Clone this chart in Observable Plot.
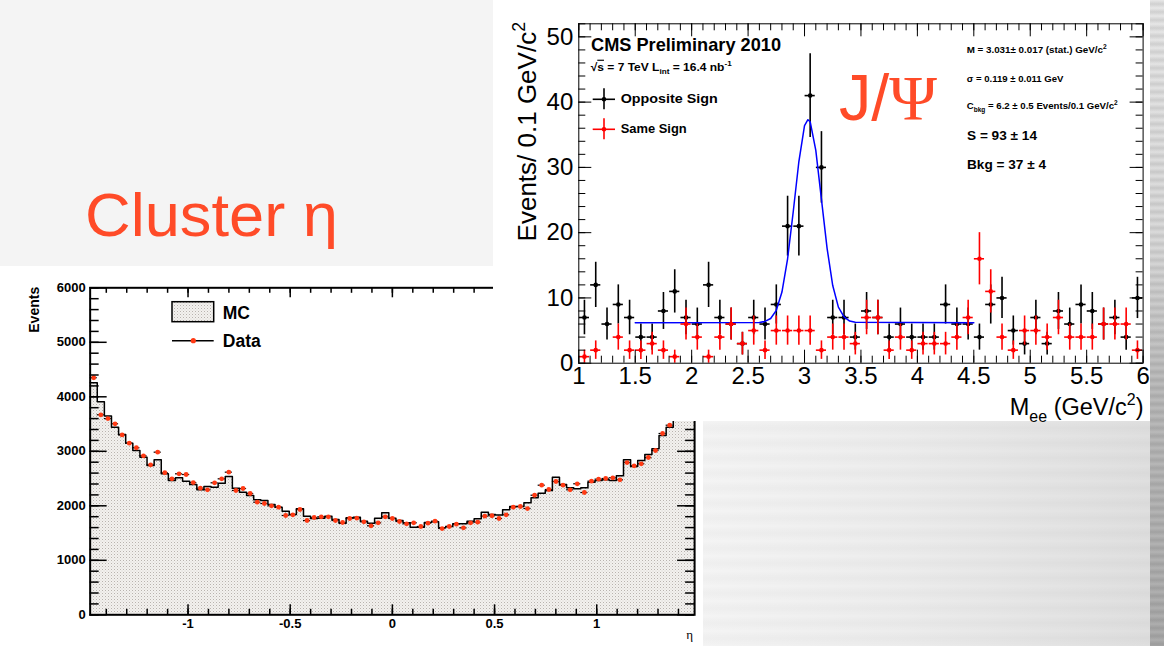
<!DOCTYPE html>
<html><head><meta charset="utf-8">
<script src="https://cdn.jsdelivr.net/npm/d3@7"></script>
<script src="https://cdn.jsdelivr.net/npm/@observablehq/plot@0.6"></script>
<style>
html,body{margin:0;padding:0;}
body{width:1164px;height:646px;overflow:hidden;position:relative;background:#f4f4f4;font-family:"Liberation Sans",Arial,sans-serif;}
#bgBR{position:absolute;left:700px;top:421px;width:464px;height:225px;
  background:repeating-linear-gradient(180deg,rgba(0,0,0,0.00) 0px,rgba(0,0,0,0.025) 7px,rgba(0,0,0,0.0) 15px),linear-gradient(90deg,#f4f4f4 0%,#ececec 45%,#dedede 100%);}
#strip{position:absolute;left:1150px;top:0;width:14px;height:646px;
  background:repeating-linear-gradient(180deg,rgba(0,0,0,0.0) 0px,rgba(0,0,0,0.10) 4px,rgba(0,0,0,0.0) 8px),linear-gradient(180deg,#e8e8e8 0%,#dadada 38%,#bcbcbc 60%,#adadad 100%);}
#leftPanel{position:absolute;left:0;top:266px;width:703px;height:380px;background:#fff;}
#rightPanel{position:absolute;left:493px;top:0;width:657px;height:421px;background:#fff;}
#leftPanel svg,#rightPanel svg{display:block;}
#overlay{position:absolute;left:0;top:0;pointer-events:none;}
</style></head>
<body>
<svg width="0" height="0" style="position:absolute">
  <defs>
    <pattern id="mcfill" width="3" height="3" patternUnits="userSpaceOnUse">
      <rect width="3" height="3" fill="#f3f1ef"></rect>
      <rect width="1" height="1" fill="#b8b3ae"></rect>
      <rect x="1.5" y="1.5" width="1" height="1" fill="#d6d2ce"></rect>
    </pattern>
  </defs>
</svg>
<div id="bgBR"></div>
<div id="strip"></div>
<div id="leftPanel"></div>
<div id="rightPanel"></div>
<svg id="overlay" width="1164" height="646"></svg>
<script>
const FONT = "Liberation Sans, Arial, Helvetica, sans-serif";

// ---------------- Right chart: J/psi -> ee invariant mass ----------------
const meeBinCenters = [1.05,1.15,1.25,1.35,1.45,1.55,1.65,1.75,1.85,1.95,
  2.05,2.15,2.25,2.35,2.45,2.55,2.65,2.75,2.85,2.95,
  3.05,3.15,3.25,3.35,3.45,3.55,3.65,3.75,3.85,3.95,
  4.05,4.15,4.25,4.35,4.45,4.55,4.65,4.75,4.85,4.95,
  5.05,5.15,5.25,5.35,5.45,5.55,5.65,5.75,5.85,5.95];
const oppositeSign = [7,12,6,9,7,4,4,8,11,7,
  6,12,7,6,3,7,6,9,21,21,
  41,30,7,7,4,8,7,4,6,4,
  4,4,9,6,6,4,9,10,5,3,
  7,3,8,6,9,8,6,7,4,10];
const sameSign = [1,2,0,4,2,2,3,2,1,6,
  4,1,4,6,3,5,2,5,5,5,
  5,2,4,4,3,7,7,2,4,2,
  3,3,3,4,7,16,11,4,2,5,
  5,4,7,4,4,4,6,6,6,2];
const fitX = [1.5,2.6,2.65,2.7,2.75,2.8,2.85,2.9,2.95,3.0,3.03,3.05,3.1,3.15,3.2,3.25,3.3,3.35,3.4,3.45,4.5];
const fitY = [6.2,6.24,6.4,6.85,8.1,10.9,16.0,23.2,30.9,36.4,37.3,37.0,32.6,25.1,17.6,11.9,8.6,7.1,6.45,6.26,6.2];
const meeTickLabels = [1,1.5,2,2.5,3,3.5,4,4.5,5,5.5,6];
const meeMinorTicks = d3.range(10, 61).map(i => i / 10);
const eventsTickLabels = [0,10,20,30,40,50];
const eventsMinorTicks = d3.range(0, 53, 2);

// ---------------- Left chart: cluster eta ----------------
const etaMin = -1.479, etaMax = 1.479;
const mcEvents = [4260,3910,3650,3440,3310,3150,3015,2890,2740,2845,
  2587,2464,2514,2451,2391,2294,2354,2341,2415,2538,
  2323,2250,2189,2110,2097,2024,1974,1901,1840,1945,
  1810,1767,1773,1810,1749,1681,1780,1791,1718,1681,
  1773,1872,1773,1730,1688,1607,1607,1694,1706,1596,
  1620,1670,1670,1718,1761,1883,1840,1830,1927,1987,
  1987,2055,2147,2231,2281,2525,2391,2330,2312,2330,
  2433,2464,2477,2464,2550,2844,2721,2831,2941,3046,
  3290,3442,3650,3920,4250];
const dataEvents = [4350,3670,3600,3505,3300,3150,3065,2917,2752,2984,
  2606,2495,2587,2574,2427,2323,2294,2422,2495,2617,
  2281,2317,2226,2066,2042,2000,1974,1822,1835,1932,
  1730,1785,1798,1798,1730,1694,1767,1773,1706,1633,
  1688,1798,1767,1712,1670,1688,1620,1681,1718,1583,
  1620,1663,1596,1688,1700,1810,1817,1767,1835,1974,
  1987,1950,2194,2378,2299,2446,2378,2294,2404,2244,
  2452,2489,2501,2514,2477,2794,2734,2771,2886,3015,
  3327,3479,3700,3950,4300];
const etaTickLabels = [-1,-0.5,0,0.5,1];
const etaMinorTicks = d3.range(-14, 15).map(i => i / 10);
const etaEventsTickLabels = [0,1000,2000,3000,4000,5000,6000];
const etaEventsMinorTicks = d3.range(0, 6001, 200);

// ---------- helpers ----------
function richText(parent, parts, attrs) {
  const t = parent.append("text").attr("text-anchor", "start");
  for (const [k, v] of Object.entries(attrs)) if (v != null) t.attr(k, v);
  const size = +attrs["font-size"];
  let shift = 0;
  for (const [str, kind] of parts) {
    const target = kind === "sub" ? 0.3 * size : kind === "sup" ? -0.42 * size : 0;
    const ts = t.append("tspan").text(str).attr("dy", target - shift);
    shift = target;
    if (kind === "sub" || kind === "sup") ts.attr("font-size", size * 0.68);
    if (kind === "ol") ts.attr("text-decoration", "overline");
  }
  return t;
}

// ================= RIGHT PLOT =================
const rW = 657, rH = 421;
const rM = {top: 23.3, right: 7.4, bottom: 58.3, left: 85.3};
const rInnerW = rW - rM.left - rM.right, rInnerH = rH - rM.top - rM.bottom;
const osRows = meeBinCenters.map((x, i) => ({x, n: oppositeSign[i]})).filter(d => d.n > 0);
const ssRows = meeBinCenters.map((x, i) => ({x, n: sameSign[i]})).filter(d => d.n > 0);
const fitRows = fitX.map((x, i) => ({x, y: fitY[i]}));
const halfBin = 0.045;

function errMarks(rows, color) {
  return [
    Plot.ruleX(rows, {x: "x", y1: d => d.n - Math.sqrt(d.n), y2: d => d.n + Math.sqrt(d.n), stroke: color, strokeWidth: 1.6}),
    Plot.ruleY(rows, {y: "n", x1: d => d.x - halfBin, x2: d => d.x + halfBin, stroke: color, strokeWidth: 1.6}),
    Plot.dot(rows, {x: "x", y: "n", r: 2.3, fill: color, stroke: "none"})
  ];
}

const rightAnnotations = () => {
  const g = d3.create("svg:g").attr("font-family", FONT).attr("text-anchor", "start");
  richText(g, [["CMS Preliminary 2010", "n"]], {x: 98, y: 50.7, "font-size": 18.5, "font-weight": "bold", textLength: 190, lengthAdjust: "spacingAndGlyphs"});
  richText(g, [["√", "n"], ["s", "ol"], [" = 7 TeV L", "n"], ["int", "sub"], [" = 16.4 nb", "n"], ["-1", "sup"]],
    {x: 97.7, y: 70.7, "font-size": 11.5, "font-weight": "bold", textLength: 141, lengthAdjust: "spacingAndGlyphs"});
  // legend
  const leg = [["Opposite Sign", "black", 99.3, 103.3, 97], ["Same Sign", "#ff0000", 129.3, 133.3, 66]];
  for (const [label, color, cy, by, len] of leg) {
    g.append("line").attr("x1", 99.7).attr("x2", 122).attr("y1", cy).attr("y2", cy).attr("stroke", color).attr("stroke-width", 1.6);
    g.append("line").attr("x1", 111).attr("x2", 111).attr("y1", cy - 11).attr("y2", cy + 10).attr("stroke", color).attr("stroke-width", 1.6);
    g.append("circle").attr("cx", 111).attr("cy", cy).attr("r", 2.3).attr("fill", color);
    richText(g, [[label, "n"]], {x: 127.7, y: by, "font-size": 13, "font-weight": "bold", textLength: len, lengthAdjust: "spacingAndGlyphs"});
  }
  // fit results
  richText(g, [["M = 3.031± 0.017 (stat.) GeV/c", "n"], ["2", "sup"]], {x: 473.7, y: 53.3, "font-size": 9.5, "font-weight": "bold", textLength: 140, lengthAdjust: "spacingAndGlyphs"});
  richText(g, [["σ = 0.119 ± 0.011 GeV", "n"]], {x: 473.7, y: 82.3, "font-size": 9.5, "font-weight": "bold", textLength: 96.7, lengthAdjust: "spacingAndGlyphs"});
  richText(g, [["C", "n"], ["bkg", "sub"], [" = 6.2 ± 0.5 Events/0.1 GeV/c", "n"], ["2", "sup"]], {x: 473.7, y: 108.7, "font-size": 9.5, "font-weight": "bold", textLength: 151, lengthAdjust: "spacingAndGlyphs"});
  richText(g, [["S = 93 ± 14", "n"]], {x: 474, y: 140, "font-size": 12.5, "font-weight": "bold", textLength: 70, lengthAdjust: "spacingAndGlyphs"});
  richText(g, [["Bkg = 37 ± 4", "n"]], {x: 474, y: 169, "font-size": 12.5, "font-weight": "bold", textLength: 79, lengthAdjust: "spacingAndGlyphs"});
  // axis titles
  richText(g, [["M", "n"], ["ee", "sub"], [" (GeV/c", "n"], ["2", "sup"], [")", "n"]], {x: 650.5, y: 415, "font-size": 23.5, "text-anchor": "end"});
  richText(g, [["Events/ 0.1 GeV/c", "n"], ["2", "sup"]], {x: 0, y: 0, "font-size": 26, "text-anchor": "end", transform: "translate(42.5,22) rotate(-90)"});
  return g.node();
};

const rightPlot = Plot.plot({
  width: rW, height: rH,
  marginTop: rM.top, marginRight: rM.right, marginBottom: rM.bottom, marginLeft: rM.left,
  x: {domain: [1, 6]},
  y: {domain: [0, 52]},
  style: {background: "transparent", fontFamily: FONT, overflow: "visible"},
  marks: [
    ...errMarks(osRows, "black"),
    Plot.line(fitRows, {x: "x", y: "y", stroke: "#0000ff", strokeWidth: 1.5}),
    ...errMarks(ssRows, "#ff0000"),
    // ticks (inward, ROOT style)
    Plot.tickX(meeMinorTicks, {x: d => d, insetTop: rInnerH - 7, stroke: "black", strokeWidth: 1}),
    Plot.tickX(meeTickLabels, {x: d => d, insetTop: rInnerH - 13, stroke: "black", strokeWidth: 1}),
    Plot.tickX(meeMinorTicks, {x: d => d, insetBottom: rInnerH - 7, stroke: "black", strokeWidth: 1}),
    Plot.tickX(meeTickLabels, {x: d => d, insetBottom: rInnerH - 13, stroke: "black", strokeWidth: 1}),
    Plot.tickY(eventsMinorTicks, {y: d => d, insetRight: rInnerW - 7, stroke: "black", strokeWidth: 1}),
    Plot.tickY(eventsTickLabels, {y: d => d, insetRight: rInnerW - 13, stroke: "black", strokeWidth: 1}),
    Plot.tickY(eventsMinorTicks, {y: d => d, insetLeft: rInnerW - 7, stroke: "black", strokeWidth: 1}),
    Plot.tickY(eventsTickLabels, {y: d => d, insetLeft: rInnerW - 13, stroke: "black", strokeWidth: 1}),
    Plot.frame({stroke: "black", strokeWidth: 1}),
    Plot.axisX(meeTickLabels, {tickSize: 0, tickPadding: 4, fontSize: 24, fontFamily: FONT, fill: "black", tickFormat: d => String(d), label: null}),
    Plot.axisY(eventsTickLabels, {tickSize: 0, tickPadding: 5.5, fontSize: 24, fontFamily: FONT, fill: "black", tickFormat: d => String(d), label: null}),
    rightAnnotations
  ]
});
document.getElementById("rightPanel").appendChild(rightPlot);

// ================= LEFT PLOT =================
const lW = 703, lH = 380;
const lM = {top: 21.3, right: 8.9, bottom: 31.7, left: 89.65};
const lInnerW = lW - lM.left - lM.right, lInnerH = lH - lM.top - lM.bottom;
const nBins = mcEvents.length;
const binW = (etaMax - etaMin) / nBins;
const mcStep = d3.range(nBins + 1).map(i => ({x: etaMin + i * binW, y: mcEvents[Math.min(i, nBins - 1)]}));
const dataRows = dataEvents.map((v, i) => ({lo: etaMin + i * binW, hi: etaMin + (i + 1) * binW, c: etaMin + (i + 0.5) * binW, v}));

const leftAnnotations = () => {
  const g = d3.create("svg:g").attr("font-family", FONT).attr("text-anchor", "start");
  g.append("rect").attr("x", 172).attr("y", 35.7).attr("width", 41.7).attr("height", 20).attr("fill", "url(#mcfill)").attr("stroke", "black").attr("stroke-width", 1.5);
  richText(g, [["MC", "n"]], {x: 222.8, y: 52.7, "font-size": 17.5, "font-weight": "bold"});
  g.append("line").attr("x1", 172).attr("x2", 213.7).attr("y1", 74.7).attr("y2", 74.7).attr("stroke", "black").attr("stroke-width", 1.5);
  g.append("circle").attr("cx", 193.3).attr("cy", 74.7).attr("r", 2.6).attr("fill", "#ff3a14");
  richText(g, [["Data", "n"]], {x: 222.8, y: 81.3, "font-size": 17.5, "font-weight": "bold"});
  richText(g, [["Events", "n"]], {x: 0, y: 0, "font-size": 14, "font-weight": "bold", "text-anchor": "end", transform: "translate(38.5,20.8) rotate(-90)"});
  richText(g, [["η", "n"]], {x: 693, y: 373, "font-size": 13, "text-anchor": "end", "font-family": "Liberation Serif, DejaVu Serif, serif"});
  return g.node();
};

const leftPlot = Plot.plot({
  width: lW, height: lH,
  marginTop: lM.top, marginRight: lM.right, marginBottom: lM.bottom, marginLeft: lM.left,
  x: {domain: [etaMin, etaMax]},
  y: {domain: [0, 6000]},
  style: {background: "transparent", fontFamily: FONT, overflow: "visible"},
  marks: [
    Plot.areaY(mcStep, {x: "x", y: "y", curve: "step-after", fill: "url(#mcfill)"}),
    Plot.line(mcStep, {x: "x", y: "y", curve: "step-after", stroke: "black", strokeWidth: 1.5}),
    Plot.ruleY(dataRows, {y: "v", x1: "lo", x2: "hi", stroke: "black", strokeWidth: 1.2}),
    Plot.dot(dataRows, {x: "c", y: "v", r: 2.4, fill: "#ff3a14", stroke: "none"}),
    Plot.tickX(etaMinorTicks, {x: d => d, insetTop: lInnerH - 5.5, stroke: "black", strokeWidth: 1.5}),
    Plot.tickX(etaTickLabels, {x: d => d, insetTop: lInnerH - 10, stroke: "black", strokeWidth: 1.5}),
    Plot.tickX(etaMinorTicks, {x: d => d, insetBottom: lInnerH - 5.5, stroke: "black", strokeWidth: 1.5}),
    Plot.tickX(etaTickLabels, {x: d => d, insetBottom: lInnerH - 10, stroke: "black", strokeWidth: 1.5}),
    Plot.tickY(etaEventsMinorTicks, {y: d => d, insetRight: lInnerW - 9, stroke: "black", strokeWidth: 1.5}),
    Plot.tickY(etaEventsTickLabels, {y: d => d, insetRight: lInnerW - 17, stroke: "black", strokeWidth: 1.5}),
    Plot.tickY(etaEventsMinorTicks, {y: d => d, insetLeft: lInnerW - 9, stroke: "black", strokeWidth: 1.5}),
    Plot.tickY(etaEventsTickLabels, {y: d => d, insetLeft: lInnerW - 17, stroke: "black", strokeWidth: 1.5}),
    Plot.frame({stroke: "black", strokeWidth: 2}),
    Plot.axisX(etaTickLabels, {tickSize: 0, tickPadding: 4, fontSize: 13, fontWeight: "bold", fontFamily: FONT, fill: "black", tickFormat: d => String(d), label: null}),
    Plot.axisY(etaEventsTickLabels, {tickSize: 0, tickPadding: 4.5, fontSize: 13, fontWeight: "bold", fontFamily: FONT, fill: "black", tickFormat: d => String(d), label: null}),
    leftAnnotations
  ]
});
document.getElementById("leftPanel").appendChild(leftPlot);

// ================= Slide titles =================
const ov = d3.select("#overlay");
ov.append("text").attr("x", 85).attr("y", 236).attr("font-family", FONT).attr("font-size", 62)
  .attr("fill", "#ff4b28").attr("textLength", 253).attr("lengthAdjust", "spacingAndGlyphs").text("Cluster η");
const jp = ov.append("text").attr("x", 839).attr("y", 120).attr("font-size", 64).attr("fill", "#ff4b28")
  .attr("textLength", 98).attr("lengthAdjust", "spacingAndGlyphs");
jp.append("tspan").attr("font-family", FONT).text("J/");
jp.append("tspan").attr("font-family", "Liberation Serif, DejaVu Serif, serif").text("Ψ");
</script>
</body></html>
